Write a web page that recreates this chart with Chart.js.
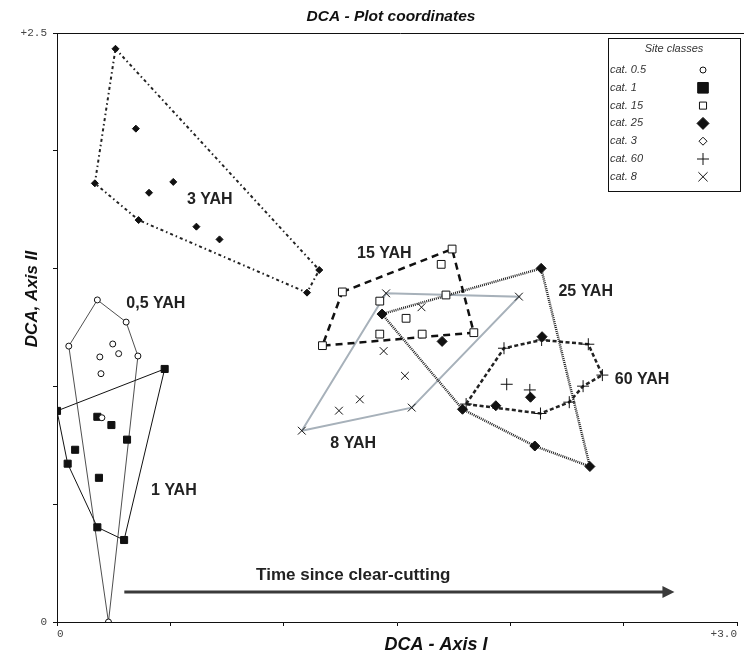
<!DOCTYPE html>
<html>
<head>
<meta charset="utf-8">
<title>DCA - Plot coordinates</title>
<script src="https://cdn.jsdelivr.net/npm/chart.js@4/dist/chart.umd.min.js"></script>
<style>
    html, body { margin: 0; padding: 0; background: #fff; }
    #wrap { width: 744px; height: 654px; position: relative; }
</style>
</head>
<body>
<div id="wrap"><canvas id="myChart"></canvas></div>
<script>
'use strict'

// DATA - DCA axis I / axis II scores per site class
var categories = ["cat. 0.5", "cat. 1", "cat. 15", "cat. 25", "cat. 3", "cat. 60", "cat. 8"];
var groupNames = ["0,5 YAH", "1 YAH", "15 YAH", "25 YAH", "3 YAH", "60 YAH", "8 YAH"];

// hull vertices, in drawing order
var hull05 = [[0.178, 1.367], [0.305, 1.273], [0.357, 1.129], [0.227, 0.0], [0.052, 1.171]];
var hull1 = [[0.475, 1.074], [0.0, 0.896], [0.047, 0.672], [0.178, 0.402], [0.296, 0.348]];
var hull15 = [[1.259, 1.401], [1.743, 1.583], [1.839, 1.228], [1.171, 1.173]];
var hull25 = [[1.434, 1.307], [2.136, 1.501], [2.351, 0.660], [2.108, 0.747], [1.789, 0.903]];
var hull3 = [[0.258, 2.433], [1.157, 1.494], [1.103, 1.398], [0.360, 1.706], [0.167, 1.862]];
var hull60 = [[1.805, 0.925], [1.972, 1.162], [2.138, 1.197], [2.344, 1.179], [2.406, 1.048], [2.321, 1.001], [2.260, 0.933], [2.133, 0.885]];
var hull8 = [[1.080, 0.812], [1.452, 1.395], [2.038, 1.381], [1.565, 0.910]];

// points inside the hulls
var inner05 = [[0.246, 1.180], [0.272, 1.139], [0.189, 1.125], [0.194, 1.054], [0.198, 0.867]];
var inner1 = [[0.178, 0.871], [0.240, 0.836], [0.309, 0.774], [0.080, 0.731], [0.185, 0.612]];
var inner15 = [[1.695, 1.518], [1.424, 1.362], [1.716, 1.388], [1.540, 1.289], [1.611, 1.222], [1.424, 1.222]];
var inner25 = [[1.699, 1.191], [2.140, 1.211], [1.936, 0.918], [2.089, 0.954]];
var inner3 = [[0.348, 2.094], [0.513, 1.868], [0.406, 1.822], [0.615, 1.678], [0.717, 1.624]];
var inner60 = [[1.984, 1.009], [2.086, 0.985]];
var inner8 = [[1.608, 1.336], [1.424, 1.222], [1.441, 1.150], [1.535, 1.045], [1.336, 0.945], [1.244, 0.897]];

// tick labels
var xTickLabels = { 0: "0", 3: "+3.0" };
var yTickLabels = { 0: "0", 2.5: "+2.5" };

var hulls = [hull05, hull1, hull15, hull25, hull3, hull60, hull8];
var inners = [inner05, inner1, inner15, inner25, inner3, inner60, inner8];

// STYLES
var styles = [
    { pointStyle: "circle",   radius: 3,   fill: "#fff", line: "#222",    lineWidth: 0.8, dash: [],           legendRadius: 3,   legendFill: "#fff" },
    { pointStyle: "rect",     radius: 5,   fill: "#111", line: "#111",    lineWidth: 1,   dash: [],           legendRadius: 7.5, legendFill: "#111" },
    { pointStyle: "rect",     radius: 5.5, fill: "#fff", line: "#111",    lineWidth: 2.5, dash: [7, 5],       legendRadius: 5,   legendFill: "#fff" },
    { pointStyle: "rectRot",  radius: 5,   fill: "#111", line: "#222",    lineWidth: 2.5, dash: [1, 1],       legendRadius: 6,   legendFill: "#111" },
    { pointStyle: "rectRot",  radius: 3.5, fill: "#111", line: "#222",    lineWidth: 2,   dash: [3, 3, 1.5, 3], legendRadius: 4, legendFill: "#fff" },
    { pointStyle: "cross",    radius: 6,   fill: "#111", line: "#222",    lineWidth: 2.5, dash: [4, 2.5],     legendRadius: 6,   legendFill: "#111" },
    { pointStyle: "crossRot", radius: 5.5, fill: "#111", line: "#a7b1ba", lineWidth: 2,   dash: [],           legendRadius: 6.5, legendFill: "#111" }
];

// hull caption anchors (data units, left / middle of text)
var captionAt = [[0.306, 1.350], [0.415, 0.556], [1.324, 1.562], [2.212, 1.401], [0.573, 1.795], [2.461, 1.027], [1.206, 0.756]];

function toXY(arr) {
    return arr.map(function (p) { return { x: p[0], y: p[1] }; });
}

var datasets = [];
for (var i = 0; i < categories.length; i++) {
    var s = styles[i];
    datasets.push({
        label: categories[i],
        data: toXY(hulls[i].concat(inners[i])),
        showLine: false,
        pointStyle: s.pointStyle,
        pointRadius: s.radius,
        pointHoverRadius: s.radius,
        pointBackgroundColor: s.fill,
        pointBorderColor: "#111",
        pointBorderWidth: 1,
        order: 1
    });
    datasets.push({
        label: groupNames[i],
        data: toXY(hulls[i].concat([hulls[i][0]])),
        showLine: true,
        pointRadius: 0,
        borderColor: s.line,
        borderWidth: s.lineWidth,
        borderDash: s.dash,
        tension: 0,
        fill: false,
        order: 2
    });
}

function drawSymbol(ctx, style, r, fill, x, y) {
    ctx.save();
    ctx.strokeStyle = "#111";
    ctx.fillStyle = fill;
    ctx.lineWidth = 1;
    ctx.beginPath();
    if (style === "circle") {
        ctx.arc(x, y, r, 0, Math.PI * 2);
    } else if (style === "rect") {
        var h = r * Math.SQRT1_2;
        ctx.rect(x - h, y - h, 2 * h, 2 * h);
    } else if (style === "rectRot") {
        ctx.moveTo(x, y - r); ctx.lineTo(x + r, y); ctx.lineTo(x, y + r); ctx.lineTo(x - r, y); ctx.closePath();
    } else if (style === "cross") {
        ctx.moveTo(x - r, y); ctx.lineTo(x + r, y); ctx.moveTo(x, y - r); ctx.lineTo(x, y + r);
    } else {
        var d = r * Math.SQRT1_2;
        ctx.moveTo(x - d, y - d); ctx.lineTo(x + d, y + d); ctx.moveTo(x + d, y - d); ctx.lineTo(x - d, y + d);
    }
    if (style !== "cross" && style !== "crossRot") ctx.fill();
    ctx.stroke();
    ctx.restore();
}

var extras = {
    id: "extras",
    afterDraw: function (chart) {
        var ctx = chart.ctx;
        var area = chart.chartArea;
        var xs = chart.scales.x, ys = chart.scales.y;
        ctx.save();

        // top frame line
        ctx.strokeStyle = "#111";
        ctx.lineWidth = 1;
        ctx.beginPath();
        ctx.moveTo(area.left, area.top + 0.5);
        ctx.lineTo(chart.width, area.top + 0.5);
        ctx.stroke();

        // titles
        ctx.fillStyle = "#111";
        ctx.textBaseline = "middle";
        ctx.textAlign = "center";
        ctx.font = "italic bold 15.5px 'Liberation Sans', Arial, sans-serif";
        ctx.fillText("DCA - Plot coordinates", 391, 17);
        ctx.font = "italic bold 18px 'Liberation Sans', Arial, sans-serif";
        ctx.fillText("DCA - Axis I", 436, 645);
        ctx.font = "italic bold 17px 'Liberation Sans', Arial, sans-serif";
        ctx.save();
        ctx.translate(32, 299);
        ctx.rotate(-Math.PI / 2);
        ctx.fillText("DCA, Axis II", 0, 0);
        ctx.restore();

        // hull captions
        ctx.textAlign = "left";
        ctx.font = "bold 16px 'Liberation Sans', Arial, sans-serif";
        ctx.fillStyle = "#222";
        for (var i = 0; i < groupNames.length; i++) {
            ctx.fillText(groupNames[i], xs.getPixelForValue(captionAt[i][0]), ys.getPixelForValue(captionAt[i][1]));
        }

        // time arrow
        var ax0 = xs.getPixelForValue(0.297), ax1 = xs.getPixelForValue(2.724), ay = ys.getPixelForValue(0.127);
        ctx.strokeStyle = "#3a3a3a";
        ctx.fillStyle = "#3a3a3a";
        ctx.lineWidth = 3;
        ctx.beginPath();
        ctx.moveTo(ax0, ay);
        ctx.lineTo(ax1 - 10, ay);
        ctx.stroke();
        ctx.beginPath();
        ctx.moveTo(ax1, ay);
        ctx.lineTo(ax1 - 12, ay - 6);
        ctx.lineTo(ax1 - 12, ay + 6);
        ctx.closePath();
        ctx.fill();
        ctx.textAlign = "center";
        ctx.font = "bold 17px 'Liberation Sans', Arial, sans-serif";
        ctx.fillStyle = "#222";
        ctx.fillText("Time since clear-cutting", xs.getPixelForValue(1.307), ys.getPixelForValue(0.199));

        // legend box
        var lx = 608, ly = 38, lw = 132, lh = 153;
        ctx.fillStyle = "#fff";
        ctx.fillRect(lx, ly, lw, lh);
        ctx.strokeStyle = "#111";
        ctx.lineWidth = 1;
        ctx.strokeRect(lx + 0.5, ly + 0.5, lw, lh);
        ctx.fillStyle = "#333";
        ctx.font = "italic 11px 'Liberation Sans', Arial, sans-serif";
        ctx.textAlign = "center";
        ctx.fillText("Site classes", lx + 66, ly + 11);
        ctx.textAlign = "left";
        for (var k = 0; k < categories.length; k++) {
            var yy = ly + 32 + k * 17.8;
            ctx.fillStyle = "#333";
            ctx.fillText(categories[k], lx + 2, yy);
            drawSymbol(ctx, styles[k].pointStyle, styles[k].legendRadius, styles[k].legendFill, lx + 95, yy);
        }
        ctx.restore();
    }
};

var tickFont = { family: "'Liberation Mono', 'DejaVu Sans Mono', monospace", size: 11 };

var chart = new Chart(document.getElementById("myChart").getContext("2d"), {
    type: "scatter",
    data: { datasets: datasets },
    options: {
        responsive: true,
        maintainAspectRatio: false,
        animation: false,
        layout: { padding: { top: 33, right: 1, left: 0, bottom: 0 } },
        plugins: {
            legend: { display: false },
            title: { display: false },
            tooltip: { enabled: false }
        },
        scales: {
            x: {
                type: "linear",
                min: 0,
                max: 3,
                afterFit: function (scale) { scale.height = 32; },
                border: { display: true, color: "#111", width: 1 },
                grid: { drawOnChartArea: false, drawTicks: true, tickLength: 4, color: "#111" },
                ticks: {
                    stepSize: 0.5,
                    align: "inner",
                    maxRotation: 0,
                    padding: 1,
                    color: "#444",
                    font: tickFont,
                    callback: function (v) {
                        var key = Math.round(v * 10) / 10;
                        return xTickLabels[key] !== undefined ? xTickLabels[key] : "";
                    }
                }
            },
            y: {
                type: "linear",
                min: 0,
                max: 2.5,
                afterFit: function (scale) { scale.width = 57; },
                border: { display: true, color: "#111", width: 1 },
                grid: { drawOnChartArea: false, drawTicks: true, tickLength: 4, color: "#111" },
                ticks: {
                    stepSize: 0.5,
                    padding: 6,
                    color: "#444",
                    font: tickFont,
                    callback: function (v) {
                        var key = Math.round(v * 10) / 10;
                        return yTickLabels[key] !== undefined ? yTickLabels[key] : "";
                    }
                }
            }
        }
    },
    plugins: [extras]
});
</script>
</body>
</html>
